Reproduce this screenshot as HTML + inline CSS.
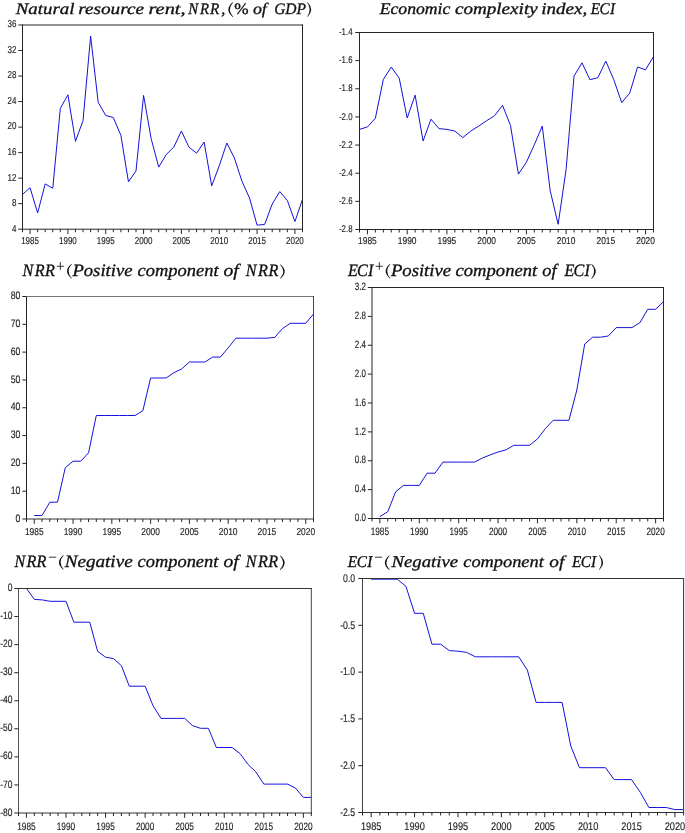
<!DOCTYPE html>
<html><head><meta charset="utf-8"><style>
html,body{margin:0;padding:0;background:#fff;}
svg{display:block;}
text{font-family:"Liberation Sans",sans-serif;fill:#222;text-rendering:geometricPrecision;stroke:#222;stroke-width:0.15px;}
text.tt{font-family:"Liberation Serif",serif;fill:#111;stroke:#111;stroke-width:0.32px;}
text{filter:grayscale(1);}
</style></head><body>
<svg width="685" height="833" viewBox="0 0 685 833">
<rect width="685" height="833" fill="#fff"/>
<polyline points="22.50,194.50 30.07,187.70 37.64,213.00 45.20,183.90 52.77,188.30 60.34,108.30 67.91,94.80 75.47,141.30 83.04,120.60 90.61,36.00 98.18,102.30 105.74,115.50 113.31,117.50 120.88,135.40 128.45,181.80 136.01,171.00 143.58,95.40 151.15,138.70 158.72,167.10 166.28,154.50 173.85,147.00 181.42,131.00 188.99,147.20 196.55,153.20 204.12,142.00 211.69,185.90 219.26,165.80 226.82,143.00 234.39,158.00 241.96,181.30 249.53,198.00 257.09,225.20 264.66,224.40 272.23,204.00 279.80,191.60 287.36,200.60 294.93,221.60 302.50,199.40" fill="none" stroke="#1212dc" stroke-width="1.0" stroke-linejoin="round"/>
<line x1="22.50" y1="24.50" x2="22.50" y2="229.70" stroke="#262626" stroke-width="1"/>
<line x1="22.00" y1="25.00" x2="303.00" y2="25.00" stroke="#262626" stroke-width="1"/>
<line x1="302.50" y1="24.50" x2="302.50" y2="229.70" stroke="#262626" stroke-width="1"/>
<line x1="22.00" y1="229.20" x2="303.00" y2="229.20" stroke="#262626" stroke-width="1"/>
<line x1="18.30" y1="25.00" x2="22.50" y2="25.00" stroke="#262626" stroke-width="1"/>
<text x="16.40" y="27.38" text-anchor="end" font-size="10.0" transform="translate(16.40 0) scale(0.8 1) translate(-16.40 0)">36</text>
<line x1="18.30" y1="50.52" x2="22.50" y2="50.52" stroke="#262626" stroke-width="1"/>
<text x="16.40" y="52.90" text-anchor="end" font-size="10.0" transform="translate(16.40 0) scale(0.8 1) translate(-16.40 0)">32</text>
<line x1="18.30" y1="76.05" x2="22.50" y2="76.05" stroke="#262626" stroke-width="1"/>
<text x="16.40" y="78.43" text-anchor="end" font-size="10.0" transform="translate(16.40 0) scale(0.8 1) translate(-16.40 0)">28</text>
<line x1="18.30" y1="101.57" x2="22.50" y2="101.57" stroke="#262626" stroke-width="1"/>
<text x="16.40" y="103.95" text-anchor="end" font-size="10.0" transform="translate(16.40 0) scale(0.8 1) translate(-16.40 0)">24</text>
<line x1="18.30" y1="127.10" x2="22.50" y2="127.10" stroke="#262626" stroke-width="1"/>
<text x="16.40" y="129.48" text-anchor="end" font-size="10.0" transform="translate(16.40 0) scale(0.8 1) translate(-16.40 0)">20</text>
<line x1="18.30" y1="152.62" x2="22.50" y2="152.62" stroke="#262626" stroke-width="1"/>
<text x="16.40" y="155.01" text-anchor="end" font-size="10.0" transform="translate(16.40 0) scale(0.8 1) translate(-16.40 0)">16</text>
<line x1="18.30" y1="178.15" x2="22.50" y2="178.15" stroke="#262626" stroke-width="1"/>
<text x="16.40" y="180.53" text-anchor="end" font-size="10.0" transform="translate(16.40 0) scale(0.8 1) translate(-16.40 0)">12</text>
<line x1="18.30" y1="203.67" x2="22.50" y2="203.67" stroke="#262626" stroke-width="1"/>
<text x="16.40" y="206.06" text-anchor="end" font-size="10.0" transform="translate(16.40 0) scale(0.8 1) translate(-16.40 0)">8</text>
<line x1="18.30" y1="229.20" x2="22.50" y2="229.20" stroke="#262626" stroke-width="1"/>
<text x="16.40" y="231.58" text-anchor="end" font-size="10.0" transform="translate(16.40 0) scale(0.8 1) translate(-16.40 0)">4</text>
<line x1="22.50" y1="229.20" x2="22.50" y2="232.20" stroke="#262626" stroke-width="1"/>
<line x1="30.07" y1="229.20" x2="30.07" y2="234.00" stroke="#262626" stroke-width="1"/>
<text x="30.07" y="243.80" text-anchor="middle" font-size="10.0" transform="translate(30.07 0) scale(0.8 1) translate(-30.07 0)">1985</text>
<line x1="37.64" y1="229.20" x2="37.64" y2="232.20" stroke="#262626" stroke-width="1"/>
<line x1="45.20" y1="229.20" x2="45.20" y2="232.20" stroke="#262626" stroke-width="1"/>
<line x1="52.77" y1="229.20" x2="52.77" y2="232.20" stroke="#262626" stroke-width="1"/>
<line x1="60.34" y1="229.20" x2="60.34" y2="232.20" stroke="#262626" stroke-width="1"/>
<line x1="67.91" y1="229.20" x2="67.91" y2="234.00" stroke="#262626" stroke-width="1"/>
<text x="67.91" y="243.80" text-anchor="middle" font-size="10.0" transform="translate(67.91 0) scale(0.8 1) translate(-67.91 0)">1990</text>
<line x1="75.47" y1="229.20" x2="75.47" y2="232.20" stroke="#262626" stroke-width="1"/>
<line x1="83.04" y1="229.20" x2="83.04" y2="232.20" stroke="#262626" stroke-width="1"/>
<line x1="90.61" y1="229.20" x2="90.61" y2="232.20" stroke="#262626" stroke-width="1"/>
<line x1="98.18" y1="229.20" x2="98.18" y2="232.20" stroke="#262626" stroke-width="1"/>
<line x1="105.74" y1="229.20" x2="105.74" y2="234.00" stroke="#262626" stroke-width="1"/>
<text x="105.74" y="243.80" text-anchor="middle" font-size="10.0" transform="translate(105.74 0) scale(0.8 1) translate(-105.74 0)">1995</text>
<line x1="113.31" y1="229.20" x2="113.31" y2="232.20" stroke="#262626" stroke-width="1"/>
<line x1="120.88" y1="229.20" x2="120.88" y2="232.20" stroke="#262626" stroke-width="1"/>
<line x1="128.45" y1="229.20" x2="128.45" y2="232.20" stroke="#262626" stroke-width="1"/>
<line x1="136.01" y1="229.20" x2="136.01" y2="232.20" stroke="#262626" stroke-width="1"/>
<line x1="143.58" y1="229.20" x2="143.58" y2="234.00" stroke="#262626" stroke-width="1"/>
<text x="143.58" y="243.80" text-anchor="middle" font-size="10.0" transform="translate(143.58 0) scale(0.8 1) translate(-143.58 0)">2000</text>
<line x1="151.15" y1="229.20" x2="151.15" y2="232.20" stroke="#262626" stroke-width="1"/>
<line x1="158.72" y1="229.20" x2="158.72" y2="232.20" stroke="#262626" stroke-width="1"/>
<line x1="166.28" y1="229.20" x2="166.28" y2="232.20" stroke="#262626" stroke-width="1"/>
<line x1="173.85" y1="229.20" x2="173.85" y2="232.20" stroke="#262626" stroke-width="1"/>
<line x1="181.42" y1="229.20" x2="181.42" y2="234.00" stroke="#262626" stroke-width="1"/>
<text x="181.42" y="243.80" text-anchor="middle" font-size="10.0" transform="translate(181.42 0) scale(0.8 1) translate(-181.42 0)">2005</text>
<line x1="188.99" y1="229.20" x2="188.99" y2="232.20" stroke="#262626" stroke-width="1"/>
<line x1="196.55" y1="229.20" x2="196.55" y2="232.20" stroke="#262626" stroke-width="1"/>
<line x1="204.12" y1="229.20" x2="204.12" y2="232.20" stroke="#262626" stroke-width="1"/>
<line x1="211.69" y1="229.20" x2="211.69" y2="232.20" stroke="#262626" stroke-width="1"/>
<line x1="219.26" y1="229.20" x2="219.26" y2="234.00" stroke="#262626" stroke-width="1"/>
<text x="219.26" y="243.80" text-anchor="middle" font-size="10.0" transform="translate(219.26 0) scale(0.8 1) translate(-219.26 0)">2010</text>
<line x1="226.82" y1="229.20" x2="226.82" y2="232.20" stroke="#262626" stroke-width="1"/>
<line x1="234.39" y1="229.20" x2="234.39" y2="232.20" stroke="#262626" stroke-width="1"/>
<line x1="241.96" y1="229.20" x2="241.96" y2="232.20" stroke="#262626" stroke-width="1"/>
<line x1="249.53" y1="229.20" x2="249.53" y2="232.20" stroke="#262626" stroke-width="1"/>
<line x1="257.09" y1="229.20" x2="257.09" y2="234.00" stroke="#262626" stroke-width="1"/>
<text x="257.09" y="243.80" text-anchor="middle" font-size="10.0" transform="translate(257.09 0) scale(0.8 1) translate(-257.09 0)">2015</text>
<line x1="264.66" y1="229.20" x2="264.66" y2="232.20" stroke="#262626" stroke-width="1"/>
<line x1="272.23" y1="229.20" x2="272.23" y2="232.20" stroke="#262626" stroke-width="1"/>
<line x1="279.80" y1="229.20" x2="279.80" y2="232.20" stroke="#262626" stroke-width="1"/>
<line x1="287.36" y1="229.20" x2="287.36" y2="232.20" stroke="#262626" stroke-width="1"/>
<line x1="294.93" y1="229.20" x2="294.93" y2="234.00" stroke="#262626" stroke-width="1"/>
<text x="294.93" y="243.80" text-anchor="middle" font-size="10.0" transform="translate(294.93 0) scale(0.8 1) translate(-294.93 0)">2020</text>
<line x1="302.50" y1="229.20" x2="302.50" y2="232.20" stroke="#262626" stroke-width="1"/>
<text class="tt" x="15.79" y="13.50" font-size="16.0" font-style="italic" textLength="58.75" lengthAdjust="spacingAndGlyphs">Natural</text>
<text class="tt" x="78.20" y="13.50" font-size="16.0" font-style="italic" textLength="65.76" lengthAdjust="spacingAndGlyphs">resource</text>
<text class="tt" x="148.45" y="13.50" font-size="16.0" font-style="italic" textLength="37.14" lengthAdjust="spacingAndGlyphs">rent,</text>
<text class="tt" x="188.20" y="13.50" font-size="16.0" font-style="italic" textLength="9.92" lengthAdjust="spacingAndGlyphs">N</text>
<text class="tt" x="200.06" y="13.50" font-size="16.0" font-style="italic" textLength="9.09" lengthAdjust="spacingAndGlyphs">R</text>
<text class="tt" x="210.09" y="13.50" font-size="16.0" font-style="italic" textLength="9.37" lengthAdjust="spacingAndGlyphs">R</text>
<text class="tt" x="221.30" y="13.50" font-size="16.0" font-style="italic" textLength="4.00" lengthAdjust="spacingAndGlyphs">,</text>
<text class="tt" x="234.26" y="13.50" font-size="16.0" font-style="normal" textLength="14.36" lengthAdjust="spacingAndGlyphs">%</text>
<text class="tt" x="252.94" y="13.50" font-size="16.0" font-style="italic" textLength="13.85" lengthAdjust="spacingAndGlyphs">of</text>
<text class="tt" x="274.17" y="13.50" font-size="16.0" font-style="italic" textLength="31.90" lengthAdjust="spacingAndGlyphs">GDP</text>
<path d="M232.65,2.30 Q224.05,9.60 232.65,16.90 L233.25,16.90 Q226.55,9.60 233.25,2.30 Z" fill="#111"/>
<path d="M307.75,2.20 Q314.55,9.45 307.75,16.70 L307.15,16.70 Q312.05,9.45 307.15,2.20 Z" fill="#111"/>
<polyline points="359.50,129.40 367.45,126.90 375.39,118.20 383.34,79.40 391.28,67.00 399.23,78.20 407.18,118.00 415.12,95.10 423.07,141.00 431.01,119.20 438.96,128.60 446.91,129.40 454.85,131.10 462.80,137.60 470.74,131.10 478.69,126.10 486.64,120.70 494.58,115.70 502.53,105.30 510.47,125.40 518.42,174.10 526.36,162.20 534.31,144.80 542.26,126.10 550.20,190.70 558.15,224.30 566.09,169.60 574.04,76.00 581.99,62.80 589.93,79.70 597.88,77.70 605.82,61.10 613.77,79.70 621.72,102.60 629.66,93.20 637.61,67.00 645.55,69.80 653.50,56.60" fill="none" stroke="#1212dc" stroke-width="1.0" stroke-linejoin="round"/>
<line x1="359.50" y1="32.00" x2="359.50" y2="230.00" stroke="#262626" stroke-width="1"/>
<line x1="359.00" y1="32.50" x2="654.00" y2="32.50" stroke="#262626" stroke-width="1"/>
<line x1="653.50" y1="32.00" x2="653.50" y2="230.00" stroke="#262626" stroke-width="1"/>
<line x1="359.00" y1="229.50" x2="654.00" y2="229.50" stroke="#262626" stroke-width="1"/>
<line x1="355.30" y1="32.50" x2="359.50" y2="32.50" stroke="#262626" stroke-width="1"/>
<text x="352.50" y="35.21" text-anchor="end" font-size="9.8" transform="translate(352.50 0) scale(0.8 1) translate(-352.50 0)">-1.4</text>
<line x1="355.30" y1="60.64" x2="359.50" y2="60.64" stroke="#262626" stroke-width="1"/>
<text x="352.50" y="63.35" text-anchor="end" font-size="9.8" transform="translate(352.50 0) scale(0.8 1) translate(-352.50 0)">-1.6</text>
<line x1="355.30" y1="88.79" x2="359.50" y2="88.79" stroke="#262626" stroke-width="1"/>
<text x="352.50" y="91.49" text-anchor="end" font-size="9.8" transform="translate(352.50 0) scale(0.8 1) translate(-352.50 0)">-1.8</text>
<line x1="355.30" y1="116.93" x2="359.50" y2="116.93" stroke="#262626" stroke-width="1"/>
<text x="352.50" y="119.64" text-anchor="end" font-size="9.8" transform="translate(352.50 0) scale(0.8 1) translate(-352.50 0)">-2.0</text>
<line x1="355.30" y1="145.07" x2="359.50" y2="145.07" stroke="#262626" stroke-width="1"/>
<text x="352.50" y="147.78" text-anchor="end" font-size="9.8" transform="translate(352.50 0) scale(0.8 1) translate(-352.50 0)">-2.2</text>
<line x1="355.30" y1="173.21" x2="359.50" y2="173.21" stroke="#262626" stroke-width="1"/>
<text x="352.50" y="175.92" text-anchor="end" font-size="9.8" transform="translate(352.50 0) scale(0.8 1) translate(-352.50 0)">-2.4</text>
<line x1="355.30" y1="201.36" x2="359.50" y2="201.36" stroke="#262626" stroke-width="1"/>
<text x="352.50" y="204.07" text-anchor="end" font-size="9.8" transform="translate(352.50 0) scale(0.8 1) translate(-352.50 0)">-2.6</text>
<line x1="355.30" y1="229.50" x2="359.50" y2="229.50" stroke="#262626" stroke-width="1"/>
<text x="352.50" y="232.21" text-anchor="end" font-size="9.8" transform="translate(352.50 0) scale(0.8 1) translate(-352.50 0)">-2.8</text>
<line x1="359.50" y1="229.50" x2="359.50" y2="232.50" stroke="#262626" stroke-width="1"/>
<line x1="367.45" y1="229.50" x2="367.45" y2="234.30" stroke="#262626" stroke-width="1"/>
<text x="367.45" y="243.80" text-anchor="middle" font-size="9.9" transform="translate(367.45 0) scale(0.85 1) translate(-367.45 0)">1985</text>
<line x1="375.39" y1="229.50" x2="375.39" y2="232.50" stroke="#262626" stroke-width="1"/>
<line x1="383.34" y1="229.50" x2="383.34" y2="232.50" stroke="#262626" stroke-width="1"/>
<line x1="391.28" y1="229.50" x2="391.28" y2="232.50" stroke="#262626" stroke-width="1"/>
<line x1="399.23" y1="229.50" x2="399.23" y2="232.50" stroke="#262626" stroke-width="1"/>
<line x1="407.18" y1="229.50" x2="407.18" y2="234.30" stroke="#262626" stroke-width="1"/>
<text x="407.18" y="243.80" text-anchor="middle" font-size="9.9" transform="translate(407.18 0) scale(0.85 1) translate(-407.18 0)">1990</text>
<line x1="415.12" y1="229.50" x2="415.12" y2="232.50" stroke="#262626" stroke-width="1"/>
<line x1="423.07" y1="229.50" x2="423.07" y2="232.50" stroke="#262626" stroke-width="1"/>
<line x1="431.01" y1="229.50" x2="431.01" y2="232.50" stroke="#262626" stroke-width="1"/>
<line x1="438.96" y1="229.50" x2="438.96" y2="232.50" stroke="#262626" stroke-width="1"/>
<line x1="446.91" y1="229.50" x2="446.91" y2="234.30" stroke="#262626" stroke-width="1"/>
<text x="446.91" y="243.80" text-anchor="middle" font-size="9.9" transform="translate(446.91 0) scale(0.85 1) translate(-446.91 0)">1995</text>
<line x1="454.85" y1="229.50" x2="454.85" y2="232.50" stroke="#262626" stroke-width="1"/>
<line x1="462.80" y1="229.50" x2="462.80" y2="232.50" stroke="#262626" stroke-width="1"/>
<line x1="470.74" y1="229.50" x2="470.74" y2="232.50" stroke="#262626" stroke-width="1"/>
<line x1="478.69" y1="229.50" x2="478.69" y2="232.50" stroke="#262626" stroke-width="1"/>
<line x1="486.64" y1="229.50" x2="486.64" y2="234.30" stroke="#262626" stroke-width="1"/>
<text x="486.64" y="243.80" text-anchor="middle" font-size="9.9" transform="translate(486.64 0) scale(0.85 1) translate(-486.64 0)">2000</text>
<line x1="494.58" y1="229.50" x2="494.58" y2="232.50" stroke="#262626" stroke-width="1"/>
<line x1="502.53" y1="229.50" x2="502.53" y2="232.50" stroke="#262626" stroke-width="1"/>
<line x1="510.47" y1="229.50" x2="510.47" y2="232.50" stroke="#262626" stroke-width="1"/>
<line x1="518.42" y1="229.50" x2="518.42" y2="232.50" stroke="#262626" stroke-width="1"/>
<line x1="526.36" y1="229.50" x2="526.36" y2="234.30" stroke="#262626" stroke-width="1"/>
<text x="526.36" y="243.80" text-anchor="middle" font-size="9.9" transform="translate(526.36 0) scale(0.85 1) translate(-526.36 0)">2005</text>
<line x1="534.31" y1="229.50" x2="534.31" y2="232.50" stroke="#262626" stroke-width="1"/>
<line x1="542.26" y1="229.50" x2="542.26" y2="232.50" stroke="#262626" stroke-width="1"/>
<line x1="550.20" y1="229.50" x2="550.20" y2="232.50" stroke="#262626" stroke-width="1"/>
<line x1="558.15" y1="229.50" x2="558.15" y2="232.50" stroke="#262626" stroke-width="1"/>
<line x1="566.09" y1="229.50" x2="566.09" y2="234.30" stroke="#262626" stroke-width="1"/>
<text x="566.09" y="243.80" text-anchor="middle" font-size="9.9" transform="translate(566.09 0) scale(0.85 1) translate(-566.09 0)">2010</text>
<line x1="574.04" y1="229.50" x2="574.04" y2="232.50" stroke="#262626" stroke-width="1"/>
<line x1="581.99" y1="229.50" x2="581.99" y2="232.50" stroke="#262626" stroke-width="1"/>
<line x1="589.93" y1="229.50" x2="589.93" y2="232.50" stroke="#262626" stroke-width="1"/>
<line x1="597.88" y1="229.50" x2="597.88" y2="232.50" stroke="#262626" stroke-width="1"/>
<line x1="605.82" y1="229.50" x2="605.82" y2="234.30" stroke="#262626" stroke-width="1"/>
<text x="605.82" y="243.80" text-anchor="middle" font-size="9.9" transform="translate(605.82 0) scale(0.85 1) translate(-605.82 0)">2015</text>
<line x1="613.77" y1="229.50" x2="613.77" y2="232.50" stroke="#262626" stroke-width="1"/>
<line x1="621.72" y1="229.50" x2="621.72" y2="232.50" stroke="#262626" stroke-width="1"/>
<line x1="629.66" y1="229.50" x2="629.66" y2="232.50" stroke="#262626" stroke-width="1"/>
<line x1="637.61" y1="229.50" x2="637.61" y2="232.50" stroke="#262626" stroke-width="1"/>
<line x1="645.55" y1="229.50" x2="645.55" y2="234.30" stroke="#262626" stroke-width="1"/>
<text x="645.55" y="243.80" text-anchor="middle" font-size="9.9" transform="translate(645.55 0) scale(0.85 1) translate(-645.55 0)">2020</text>
<line x1="653.50" y1="229.50" x2="653.50" y2="232.50" stroke="#262626" stroke-width="1"/>
<text class="tt" x="379.67" y="13.70" font-size="16.3" font-style="italic" textLength="70.71" lengthAdjust="spacingAndGlyphs">Economic</text>
<text class="tt" x="454.91" y="13.70" font-size="16.3" font-style="italic" textLength="82.79" lengthAdjust="spacingAndGlyphs">complexity</text>
<text class="tt" x="541.23" y="13.70" font-size="16.3" font-style="italic" textLength="45.98" lengthAdjust="spacingAndGlyphs">index,</text>
<text class="tt" x="590.63" y="13.70" font-size="16.3" font-style="italic" textLength="9.33" lengthAdjust="spacingAndGlyphs">E</text>
<text class="tt" x="599.53" y="13.70" font-size="16.3" font-style="italic" textLength="10.11" lengthAdjust="spacingAndGlyphs">C</text>
<text class="tt" x="609.99" y="13.70" font-size="16.3" font-style="italic" textLength="5.05" lengthAdjust="spacingAndGlyphs">I</text>
<polyline points="34.26,515.50 42.01,515.50 49.77,502.30 57.53,502.10 65.28,467.70 73.04,461.20 80.80,461.20 88.55,452.80 96.31,415.50 104.07,415.50 111.82,415.50 119.58,415.50 127.34,415.50 135.09,415.50 142.85,410.70 150.61,378.00 158.36,378.00 166.12,378.00 173.88,372.70 181.64,369.00 189.39,362.00 197.15,362.00 204.91,362.00 212.66,357.10 220.42,357.10 228.18,347.80 235.93,338.20 243.69,338.20 251.45,338.20 259.20,338.20 266.96,338.20 274.72,337.40 282.47,328.60 290.23,323.30 297.99,323.30 305.74,323.30 313.50,314.00" fill="none" stroke="#1212dc" stroke-width="1.0" stroke-linejoin="round"/>
<line x1="26.50" y1="296.00" x2="26.50" y2="519.50" stroke="#222" stroke-width="1"/>
<line x1="26.00" y1="296.50" x2="314.00" y2="296.50" stroke="#777" stroke-width="1"/>
<line x1="313.50" y1="296.00" x2="313.50" y2="519.50" stroke="#444" stroke-width="1"/>
<line x1="26.00" y1="519.00" x2="314.00" y2="519.00" stroke="#333" stroke-width="1"/>
<line x1="22.30" y1="296.50" x2="26.50" y2="296.50" stroke="#262626" stroke-width="1"/>
<text x="20.40" y="299.20" text-anchor="end" font-size="10.9" transform="translate(20.40 0) scale(0.8 1) translate(-20.40 0)">80</text>
<line x1="22.30" y1="324.31" x2="26.50" y2="324.31" stroke="#262626" stroke-width="1"/>
<text x="20.40" y="327.01" text-anchor="end" font-size="10.9" transform="translate(20.40 0) scale(0.8 1) translate(-20.40 0)">70</text>
<line x1="22.30" y1="352.12" x2="26.50" y2="352.12" stroke="#262626" stroke-width="1"/>
<text x="20.40" y="354.83" text-anchor="end" font-size="10.9" transform="translate(20.40 0) scale(0.8 1) translate(-20.40 0)">60</text>
<line x1="22.30" y1="379.94" x2="26.50" y2="379.94" stroke="#262626" stroke-width="1"/>
<text x="20.40" y="382.64" text-anchor="end" font-size="10.9" transform="translate(20.40 0) scale(0.8 1) translate(-20.40 0)">50</text>
<line x1="22.30" y1="407.75" x2="26.50" y2="407.75" stroke="#262626" stroke-width="1"/>
<text x="20.40" y="410.45" text-anchor="end" font-size="10.9" transform="translate(20.40 0) scale(0.8 1) translate(-20.40 0)">40</text>
<line x1="22.30" y1="435.56" x2="26.50" y2="435.56" stroke="#262626" stroke-width="1"/>
<text x="20.40" y="438.26" text-anchor="end" font-size="10.9" transform="translate(20.40 0) scale(0.8 1) translate(-20.40 0)">30</text>
<line x1="22.30" y1="463.38" x2="26.50" y2="463.38" stroke="#262626" stroke-width="1"/>
<text x="20.40" y="466.08" text-anchor="end" font-size="10.9" transform="translate(20.40 0) scale(0.8 1) translate(-20.40 0)">20</text>
<line x1="22.30" y1="491.19" x2="26.50" y2="491.19" stroke="#262626" stroke-width="1"/>
<text x="20.40" y="493.89" text-anchor="end" font-size="10.9" transform="translate(20.40 0) scale(0.8 1) translate(-20.40 0)">10</text>
<line x1="22.30" y1="519.00" x2="26.50" y2="519.00" stroke="#262626" stroke-width="1"/>
<text x="20.40" y="521.70" text-anchor="end" font-size="10.9" transform="translate(20.40 0) scale(0.8 1) translate(-20.40 0)">0</text>
<line x1="26.50" y1="519.00" x2="26.50" y2="522.00" stroke="#262626" stroke-width="1"/>
<line x1="34.26" y1="519.00" x2="34.26" y2="523.80" stroke="#262626" stroke-width="1"/>
<text x="34.26" y="534.80" text-anchor="middle" font-size="10.0" transform="translate(34.26 0) scale(0.84 1) translate(-34.26 0)">1985</text>
<line x1="42.01" y1="519.00" x2="42.01" y2="522.00" stroke="#262626" stroke-width="1"/>
<line x1="49.77" y1="519.00" x2="49.77" y2="522.00" stroke="#262626" stroke-width="1"/>
<line x1="57.53" y1="519.00" x2="57.53" y2="522.00" stroke="#262626" stroke-width="1"/>
<line x1="65.28" y1="519.00" x2="65.28" y2="522.00" stroke="#262626" stroke-width="1"/>
<line x1="73.04" y1="519.00" x2="73.04" y2="523.80" stroke="#262626" stroke-width="1"/>
<text x="73.04" y="534.80" text-anchor="middle" font-size="10.0" transform="translate(73.04 0) scale(0.84 1) translate(-73.04 0)">1990</text>
<line x1="80.80" y1="519.00" x2="80.80" y2="522.00" stroke="#262626" stroke-width="1"/>
<line x1="88.55" y1="519.00" x2="88.55" y2="522.00" stroke="#262626" stroke-width="1"/>
<line x1="96.31" y1="519.00" x2="96.31" y2="522.00" stroke="#262626" stroke-width="1"/>
<line x1="104.07" y1="519.00" x2="104.07" y2="522.00" stroke="#262626" stroke-width="1"/>
<line x1="111.82" y1="519.00" x2="111.82" y2="523.80" stroke="#262626" stroke-width="1"/>
<text x="111.82" y="534.80" text-anchor="middle" font-size="10.0" transform="translate(111.82 0) scale(0.84 1) translate(-111.82 0)">1995</text>
<line x1="119.58" y1="519.00" x2="119.58" y2="522.00" stroke="#262626" stroke-width="1"/>
<line x1="127.34" y1="519.00" x2="127.34" y2="522.00" stroke="#262626" stroke-width="1"/>
<line x1="135.09" y1="519.00" x2="135.09" y2="522.00" stroke="#262626" stroke-width="1"/>
<line x1="142.85" y1="519.00" x2="142.85" y2="522.00" stroke="#262626" stroke-width="1"/>
<line x1="150.61" y1="519.00" x2="150.61" y2="523.80" stroke="#262626" stroke-width="1"/>
<text x="150.61" y="534.80" text-anchor="middle" font-size="10.0" transform="translate(150.61 0) scale(0.84 1) translate(-150.61 0)">2000</text>
<line x1="158.36" y1="519.00" x2="158.36" y2="522.00" stroke="#262626" stroke-width="1"/>
<line x1="166.12" y1="519.00" x2="166.12" y2="522.00" stroke="#262626" stroke-width="1"/>
<line x1="173.88" y1="519.00" x2="173.88" y2="522.00" stroke="#262626" stroke-width="1"/>
<line x1="181.64" y1="519.00" x2="181.64" y2="522.00" stroke="#262626" stroke-width="1"/>
<line x1="189.39" y1="519.00" x2="189.39" y2="523.80" stroke="#262626" stroke-width="1"/>
<text x="189.39" y="534.80" text-anchor="middle" font-size="10.0" transform="translate(189.39 0) scale(0.84 1) translate(-189.39 0)">2005</text>
<line x1="197.15" y1="519.00" x2="197.15" y2="522.00" stroke="#262626" stroke-width="1"/>
<line x1="204.91" y1="519.00" x2="204.91" y2="522.00" stroke="#262626" stroke-width="1"/>
<line x1="212.66" y1="519.00" x2="212.66" y2="522.00" stroke="#262626" stroke-width="1"/>
<line x1="220.42" y1="519.00" x2="220.42" y2="522.00" stroke="#262626" stroke-width="1"/>
<line x1="228.18" y1="519.00" x2="228.18" y2="523.80" stroke="#262626" stroke-width="1"/>
<text x="228.18" y="534.80" text-anchor="middle" font-size="10.0" transform="translate(228.18 0) scale(0.84 1) translate(-228.18 0)">2010</text>
<line x1="235.93" y1="519.00" x2="235.93" y2="522.00" stroke="#262626" stroke-width="1"/>
<line x1="243.69" y1="519.00" x2="243.69" y2="522.00" stroke="#262626" stroke-width="1"/>
<line x1="251.45" y1="519.00" x2="251.45" y2="522.00" stroke="#262626" stroke-width="1"/>
<line x1="259.20" y1="519.00" x2="259.20" y2="522.00" stroke="#262626" stroke-width="1"/>
<line x1="266.96" y1="519.00" x2="266.96" y2="523.80" stroke="#262626" stroke-width="1"/>
<text x="266.96" y="534.80" text-anchor="middle" font-size="10.0" transform="translate(266.96 0) scale(0.84 1) translate(-266.96 0)">2015</text>
<line x1="274.72" y1="519.00" x2="274.72" y2="522.00" stroke="#262626" stroke-width="1"/>
<line x1="282.47" y1="519.00" x2="282.47" y2="522.00" stroke="#262626" stroke-width="1"/>
<line x1="290.23" y1="519.00" x2="290.23" y2="522.00" stroke="#262626" stroke-width="1"/>
<line x1="297.99" y1="519.00" x2="297.99" y2="522.00" stroke="#262626" stroke-width="1"/>
<line x1="305.74" y1="519.00" x2="305.74" y2="523.80" stroke="#262626" stroke-width="1"/>
<text x="305.74" y="534.80" text-anchor="middle" font-size="10.0" transform="translate(305.74 0) scale(0.84 1) translate(-305.74 0)">2020</text>
<line x1="313.50" y1="519.00" x2="313.50" y2="522.00" stroke="#262626" stroke-width="1"/>
<text class="tt" x="22.62" y="275.50" font-size="17.4" font-style="italic" textLength="10.79" lengthAdjust="spacingAndGlyphs">N</text>
<text class="tt" x="34.77" y="275.50" font-size="17.4" font-style="italic" textLength="9.88" lengthAdjust="spacingAndGlyphs">R</text>
<text class="tt" x="45.10" y="275.50" font-size="17.4" font-style="italic" textLength="9.88" lengthAdjust="spacingAndGlyphs">R</text>
<text class="tt" x="72.40" y="275.50" font-size="17.4" font-style="italic" textLength="60.12" lengthAdjust="spacingAndGlyphs">Positive</text>
<text class="tt" x="137.57" y="275.50" font-size="17.4" font-style="italic" textLength="81.10" lengthAdjust="spacingAndGlyphs">component</text>
<text class="tt" x="223.54" y="275.50" font-size="17.4" font-style="italic" textLength="15.25" lengthAdjust="spacingAndGlyphs">of</text>
<text class="tt" x="245.84" y="275.50" font-size="17.4" font-style="italic" textLength="10.79" lengthAdjust="spacingAndGlyphs">N</text>
<text class="tt" x="258.02" y="275.50" font-size="17.4" font-style="italic" textLength="9.88" lengthAdjust="spacingAndGlyphs">R</text>
<text class="tt" x="268.39" y="275.50" font-size="17.4" font-style="italic" textLength="9.88" lengthAdjust="spacingAndGlyphs">R</text>
<path d="M71.35,264.10 Q62.75,271.25 71.35,278.40 L71.95,278.40 Q65.25,271.25 71.95,264.10 Z" fill="#111"/>
<path d="M280.55,264.40 Q288.95,271.40 280.55,278.40 L279.95,278.40 Q286.45,271.40 279.95,264.40 Z" fill="#111"/>
<line x1="56.90" y1="266.30" x2="63.90" y2="266.30" stroke="#222" stroke-width="0.9"/>
<line x1="60.30" y1="262.10" x2="60.30" y2="270.00" stroke="#222" stroke-width="0.9"/>
<polyline points="379.88,516.60 387.76,511.80 395.64,491.80 403.51,485.40 411.39,485.40 419.27,485.40 427.15,473.20 435.03,473.20 442.91,462.10 450.78,462.10 458.66,462.10 466.54,462.10 474.42,462.10 482.30,458.10 490.18,454.90 498.05,452.00 505.93,449.90 513.81,445.30 521.69,445.30 529.57,445.30 537.45,438.90 545.32,428.70 553.20,420.30 561.08,420.30 568.96,420.30 576.84,390.00 584.72,344.00 592.59,337.20 600.47,337.20 608.35,336.00 616.23,327.60 624.11,327.60 631.99,327.60 639.86,322.70 647.74,309.30 655.62,309.30 663.50,301.70" fill="none" stroke="#1212dc" stroke-width="1.0" stroke-linejoin="round"/>
<line x1="372.00" y1="287.00" x2="372.00" y2="519.00" stroke="#262626" stroke-width="1"/>
<line x1="371.50" y1="287.50" x2="664.00" y2="287.50" stroke="#262626" stroke-width="1"/>
<line x1="663.50" y1="287.00" x2="663.50" y2="519.00" stroke="#262626" stroke-width="1"/>
<line x1="371.50" y1="518.50" x2="664.00" y2="518.50" stroke="#262626" stroke-width="1"/>
<line x1="367.80" y1="287.50" x2="372.00" y2="287.50" stroke="#262626" stroke-width="1"/>
<text x="366.00" y="290.13" text-anchor="end" font-size="10.7" transform="translate(366.00 0) scale(0.75 1) translate(-366.00 0)">3.2</text>
<line x1="367.80" y1="316.38" x2="372.00" y2="316.38" stroke="#262626" stroke-width="1"/>
<text x="366.00" y="319.01" text-anchor="end" font-size="10.7" transform="translate(366.00 0) scale(0.75 1) translate(-366.00 0)">2.8</text>
<line x1="367.80" y1="345.25" x2="372.00" y2="345.25" stroke="#262626" stroke-width="1"/>
<text x="366.00" y="347.88" text-anchor="end" font-size="10.7" transform="translate(366.00 0) scale(0.75 1) translate(-366.00 0)">2.4</text>
<line x1="367.80" y1="374.12" x2="372.00" y2="374.12" stroke="#262626" stroke-width="1"/>
<text x="366.00" y="376.76" text-anchor="end" font-size="10.7" transform="translate(366.00 0) scale(0.75 1) translate(-366.00 0)">2.0</text>
<line x1="367.80" y1="403.00" x2="372.00" y2="403.00" stroke="#262626" stroke-width="1"/>
<text x="366.00" y="405.63" text-anchor="end" font-size="10.7" transform="translate(366.00 0) scale(0.75 1) translate(-366.00 0)">1.6</text>
<line x1="367.80" y1="431.88" x2="372.00" y2="431.88" stroke="#262626" stroke-width="1"/>
<text x="366.00" y="434.51" text-anchor="end" font-size="10.7" transform="translate(366.00 0) scale(0.75 1) translate(-366.00 0)">1.2</text>
<line x1="367.80" y1="460.75" x2="372.00" y2="460.75" stroke="#262626" stroke-width="1"/>
<text x="366.00" y="463.38" text-anchor="end" font-size="10.7" transform="translate(366.00 0) scale(0.75 1) translate(-366.00 0)">0.8</text>
<line x1="367.80" y1="489.62" x2="372.00" y2="489.62" stroke="#262626" stroke-width="1"/>
<text x="366.00" y="492.26" text-anchor="end" font-size="10.7" transform="translate(366.00 0) scale(0.75 1) translate(-366.00 0)">0.4</text>
<line x1="367.80" y1="518.50" x2="372.00" y2="518.50" stroke="#262626" stroke-width="1"/>
<text x="366.00" y="521.13" text-anchor="end" font-size="10.7" transform="translate(366.00 0) scale(0.75 1) translate(-366.00 0)">0.0</text>
<line x1="372.00" y1="518.50" x2="372.00" y2="521.50" stroke="#262626" stroke-width="1"/>
<line x1="379.88" y1="518.50" x2="379.88" y2="523.30" stroke="#262626" stroke-width="1"/>
<text x="379.88" y="534.90" text-anchor="middle" font-size="10.7" transform="translate(379.88 0) scale(0.77 1) translate(-379.88 0)">1985</text>
<line x1="387.76" y1="518.50" x2="387.76" y2="521.50" stroke="#262626" stroke-width="1"/>
<line x1="395.64" y1="518.50" x2="395.64" y2="521.50" stroke="#262626" stroke-width="1"/>
<line x1="403.51" y1="518.50" x2="403.51" y2="521.50" stroke="#262626" stroke-width="1"/>
<line x1="411.39" y1="518.50" x2="411.39" y2="521.50" stroke="#262626" stroke-width="1"/>
<line x1="419.27" y1="518.50" x2="419.27" y2="523.30" stroke="#262626" stroke-width="1"/>
<text x="419.27" y="534.90" text-anchor="middle" font-size="10.7" transform="translate(419.27 0) scale(0.77 1) translate(-419.27 0)">1990</text>
<line x1="427.15" y1="518.50" x2="427.15" y2="521.50" stroke="#262626" stroke-width="1"/>
<line x1="435.03" y1="518.50" x2="435.03" y2="521.50" stroke="#262626" stroke-width="1"/>
<line x1="442.91" y1="518.50" x2="442.91" y2="521.50" stroke="#262626" stroke-width="1"/>
<line x1="450.78" y1="518.50" x2="450.78" y2="521.50" stroke="#262626" stroke-width="1"/>
<line x1="458.66" y1="518.50" x2="458.66" y2="523.30" stroke="#262626" stroke-width="1"/>
<text x="458.66" y="534.90" text-anchor="middle" font-size="10.7" transform="translate(458.66 0) scale(0.77 1) translate(-458.66 0)">1995</text>
<line x1="466.54" y1="518.50" x2="466.54" y2="521.50" stroke="#262626" stroke-width="1"/>
<line x1="474.42" y1="518.50" x2="474.42" y2="521.50" stroke="#262626" stroke-width="1"/>
<line x1="482.30" y1="518.50" x2="482.30" y2="521.50" stroke="#262626" stroke-width="1"/>
<line x1="490.18" y1="518.50" x2="490.18" y2="521.50" stroke="#262626" stroke-width="1"/>
<line x1="498.05" y1="518.50" x2="498.05" y2="523.30" stroke="#262626" stroke-width="1"/>
<text x="498.05" y="534.90" text-anchor="middle" font-size="10.7" transform="translate(498.05 0) scale(0.77 1) translate(-498.05 0)">2000</text>
<line x1="505.93" y1="518.50" x2="505.93" y2="521.50" stroke="#262626" stroke-width="1"/>
<line x1="513.81" y1="518.50" x2="513.81" y2="521.50" stroke="#262626" stroke-width="1"/>
<line x1="521.69" y1="518.50" x2="521.69" y2="521.50" stroke="#262626" stroke-width="1"/>
<line x1="529.57" y1="518.50" x2="529.57" y2="521.50" stroke="#262626" stroke-width="1"/>
<line x1="537.45" y1="518.50" x2="537.45" y2="523.30" stroke="#262626" stroke-width="1"/>
<text x="537.45" y="534.90" text-anchor="middle" font-size="10.7" transform="translate(537.45 0) scale(0.77 1) translate(-537.45 0)">2005</text>
<line x1="545.32" y1="518.50" x2="545.32" y2="521.50" stroke="#262626" stroke-width="1"/>
<line x1="553.20" y1="518.50" x2="553.20" y2="521.50" stroke="#262626" stroke-width="1"/>
<line x1="561.08" y1="518.50" x2="561.08" y2="521.50" stroke="#262626" stroke-width="1"/>
<line x1="568.96" y1="518.50" x2="568.96" y2="521.50" stroke="#262626" stroke-width="1"/>
<line x1="576.84" y1="518.50" x2="576.84" y2="523.30" stroke="#262626" stroke-width="1"/>
<text x="576.84" y="534.90" text-anchor="middle" font-size="10.7" transform="translate(576.84 0) scale(0.77 1) translate(-576.84 0)">2010</text>
<line x1="584.72" y1="518.50" x2="584.72" y2="521.50" stroke="#262626" stroke-width="1"/>
<line x1="592.59" y1="518.50" x2="592.59" y2="521.50" stroke="#262626" stroke-width="1"/>
<line x1="600.47" y1="518.50" x2="600.47" y2="521.50" stroke="#262626" stroke-width="1"/>
<line x1="608.35" y1="518.50" x2="608.35" y2="521.50" stroke="#262626" stroke-width="1"/>
<line x1="616.23" y1="518.50" x2="616.23" y2="523.30" stroke="#262626" stroke-width="1"/>
<text x="616.23" y="534.90" text-anchor="middle" font-size="10.7" transform="translate(616.23 0) scale(0.77 1) translate(-616.23 0)">2015</text>
<line x1="624.11" y1="518.50" x2="624.11" y2="521.50" stroke="#262626" stroke-width="1"/>
<line x1="631.99" y1="518.50" x2="631.99" y2="521.50" stroke="#262626" stroke-width="1"/>
<line x1="639.86" y1="518.50" x2="639.86" y2="521.50" stroke="#262626" stroke-width="1"/>
<line x1="647.74" y1="518.50" x2="647.74" y2="521.50" stroke="#262626" stroke-width="1"/>
<line x1="655.62" y1="518.50" x2="655.62" y2="523.30" stroke="#262626" stroke-width="1"/>
<text x="655.62" y="534.90" text-anchor="middle" font-size="10.7" transform="translate(655.62 0) scale(0.77 1) translate(-655.62 0)">2020</text>
<line x1="663.50" y1="518.50" x2="663.50" y2="521.50" stroke="#262626" stroke-width="1"/>
<text class="tt" x="348.07" y="275.60" font-size="17.4" font-style="italic" textLength="9.88" lengthAdjust="spacingAndGlyphs">E</text>
<text class="tt" x="357.10" y="275.60" font-size="17.4" font-style="italic" textLength="10.79" lengthAdjust="spacingAndGlyphs">C</text>
<text class="tt" x="367.88" y="275.60" font-size="17.4" font-style="italic" textLength="5.39" lengthAdjust="spacingAndGlyphs">I</text>
<text class="tt" x="390.90" y="275.60" font-size="17.4" font-style="italic" textLength="60.22" lengthAdjust="spacingAndGlyphs">Positive</text>
<text class="tt" x="455.57" y="275.60" font-size="17.4" font-style="italic" textLength="81.60" lengthAdjust="spacingAndGlyphs">component</text>
<text class="tt" x="542.37" y="275.60" font-size="17.4" font-style="italic" textLength="14.26" lengthAdjust="spacingAndGlyphs">of</text>
<text class="tt" x="564.57" y="275.60" font-size="17.4" font-style="italic" textLength="9.88" lengthAdjust="spacingAndGlyphs">E</text>
<text class="tt" x="573.60" y="275.60" font-size="17.4" font-style="italic" textLength="10.79" lengthAdjust="spacingAndGlyphs">C</text>
<text class="tt" x="584.38" y="275.60" font-size="17.4" font-style="italic" textLength="5.39" lengthAdjust="spacingAndGlyphs">I</text>
<path d="M389.85,264.10 Q381.45,271.25 389.85,278.40 L390.45,278.40 Q383.95,271.25 390.45,264.10 Z" fill="#111"/>
<path d="M591.75,264.10 Q599.75,271.40 591.75,278.70 L591.15,278.70 Q597.25,271.40 591.15,264.10 Z" fill="#111"/>
<line x1="375.70" y1="266.30" x2="382.70" y2="266.30" stroke="#222" stroke-width="0.9"/>
<line x1="379.30" y1="262.20" x2="379.30" y2="269.70" stroke="#222" stroke-width="0.9"/>
<polyline points="26.41,588.30 34.33,599.40 42.24,599.90 50.15,601.30 58.07,601.30 65.98,601.30 73.89,622.20 81.81,622.20 89.72,622.20 97.64,651.30 105.55,657.20 113.46,658.60 121.38,665.70 129.29,686.20 137.20,686.20 145.12,686.20 153.03,705.70 160.94,718.40 168.86,718.40 176.77,718.40 184.68,718.40 192.60,725.70 200.51,728.30 208.42,728.30 216.34,747.50 224.25,747.50 232.16,747.50 240.08,753.70 247.99,764.40 255.91,772.00 263.82,784.10 271.73,784.10 279.65,784.10 287.56,784.10 295.47,788.10 303.39,797.40 311.30,797.40" fill="none" stroke="#1212dc" stroke-width="1.0" stroke-linejoin="round"/>
<line x1="18.50" y1="588.00" x2="18.50" y2="813.50" stroke="#555" stroke-width="1"/>
<line x1="18.00" y1="588.50" x2="311.80" y2="588.50" stroke="#333" stroke-width="1"/>
<line x1="311.30" y1="588.00" x2="311.30" y2="813.50" stroke="#444" stroke-width="1"/>
<line x1="18.00" y1="813.00" x2="311.80" y2="813.00" stroke="#333" stroke-width="1"/>
<line x1="14.30" y1="588.50" x2="18.50" y2="588.50" stroke="#262626" stroke-width="1"/>
<text x="12.50" y="591.09" text-anchor="end" font-size="10.6" transform="translate(12.50 0) scale(0.8 1) translate(-12.50 0)">0</text>
<line x1="14.30" y1="616.56" x2="18.50" y2="616.56" stroke="#262626" stroke-width="1"/>
<text x="12.50" y="619.16" text-anchor="end" font-size="10.6" transform="translate(12.50 0) scale(0.8 1) translate(-12.50 0)">-10</text>
<line x1="14.30" y1="644.62" x2="18.50" y2="644.62" stroke="#262626" stroke-width="1"/>
<text x="12.50" y="647.22" text-anchor="end" font-size="10.6" transform="translate(12.50 0) scale(0.8 1) translate(-12.50 0)">-20</text>
<line x1="14.30" y1="672.69" x2="18.50" y2="672.69" stroke="#262626" stroke-width="1"/>
<text x="12.50" y="675.28" text-anchor="end" font-size="10.6" transform="translate(12.50 0) scale(0.8 1) translate(-12.50 0)">-30</text>
<line x1="14.30" y1="700.75" x2="18.50" y2="700.75" stroke="#262626" stroke-width="1"/>
<text x="12.50" y="703.34" text-anchor="end" font-size="10.6" transform="translate(12.50 0) scale(0.8 1) translate(-12.50 0)">-40</text>
<line x1="14.30" y1="728.81" x2="18.50" y2="728.81" stroke="#262626" stroke-width="1"/>
<text x="12.50" y="731.41" text-anchor="end" font-size="10.6" transform="translate(12.50 0) scale(0.8 1) translate(-12.50 0)">-50</text>
<line x1="14.30" y1="756.88" x2="18.50" y2="756.88" stroke="#262626" stroke-width="1"/>
<text x="12.50" y="759.47" text-anchor="end" font-size="10.6" transform="translate(12.50 0) scale(0.8 1) translate(-12.50 0)">-60</text>
<line x1="14.30" y1="784.94" x2="18.50" y2="784.94" stroke="#262626" stroke-width="1"/>
<text x="12.50" y="787.53" text-anchor="end" font-size="10.6" transform="translate(12.50 0) scale(0.8 1) translate(-12.50 0)">-70</text>
<line x1="14.30" y1="813.00" x2="18.50" y2="813.00" stroke="#262626" stroke-width="1"/>
<text x="12.50" y="815.59" text-anchor="end" font-size="10.6" transform="translate(12.50 0) scale(0.8 1) translate(-12.50 0)">-80</text>
<line x1="18.50" y1="813.00" x2="18.50" y2="816.00" stroke="#262626" stroke-width="1"/>
<line x1="26.41" y1="813.00" x2="26.41" y2="817.80" stroke="#262626" stroke-width="1"/>
<text x="26.41" y="829.60" text-anchor="middle" font-size="10.7" transform="translate(26.41 0) scale(0.775 1) translate(-26.41 0)">1985</text>
<line x1="34.33" y1="813.00" x2="34.33" y2="816.00" stroke="#262626" stroke-width="1"/>
<line x1="42.24" y1="813.00" x2="42.24" y2="816.00" stroke="#262626" stroke-width="1"/>
<line x1="50.15" y1="813.00" x2="50.15" y2="816.00" stroke="#262626" stroke-width="1"/>
<line x1="58.07" y1="813.00" x2="58.07" y2="816.00" stroke="#262626" stroke-width="1"/>
<line x1="65.98" y1="813.00" x2="65.98" y2="817.80" stroke="#262626" stroke-width="1"/>
<text x="65.98" y="829.60" text-anchor="middle" font-size="10.7" transform="translate(65.98 0) scale(0.775 1) translate(-65.98 0)">1990</text>
<line x1="73.89" y1="813.00" x2="73.89" y2="816.00" stroke="#262626" stroke-width="1"/>
<line x1="81.81" y1="813.00" x2="81.81" y2="816.00" stroke="#262626" stroke-width="1"/>
<line x1="89.72" y1="813.00" x2="89.72" y2="816.00" stroke="#262626" stroke-width="1"/>
<line x1="97.64" y1="813.00" x2="97.64" y2="816.00" stroke="#262626" stroke-width="1"/>
<line x1="105.55" y1="813.00" x2="105.55" y2="817.80" stroke="#262626" stroke-width="1"/>
<text x="105.55" y="829.60" text-anchor="middle" font-size="10.7" transform="translate(105.55 0) scale(0.775 1) translate(-105.55 0)">1995</text>
<line x1="113.46" y1="813.00" x2="113.46" y2="816.00" stroke="#262626" stroke-width="1"/>
<line x1="121.38" y1="813.00" x2="121.38" y2="816.00" stroke="#262626" stroke-width="1"/>
<line x1="129.29" y1="813.00" x2="129.29" y2="816.00" stroke="#262626" stroke-width="1"/>
<line x1="137.20" y1="813.00" x2="137.20" y2="816.00" stroke="#262626" stroke-width="1"/>
<line x1="145.12" y1="813.00" x2="145.12" y2="817.80" stroke="#262626" stroke-width="1"/>
<text x="145.12" y="829.60" text-anchor="middle" font-size="10.7" transform="translate(145.12 0) scale(0.775 1) translate(-145.12 0)">2000</text>
<line x1="153.03" y1="813.00" x2="153.03" y2="816.00" stroke="#262626" stroke-width="1"/>
<line x1="160.94" y1="813.00" x2="160.94" y2="816.00" stroke="#262626" stroke-width="1"/>
<line x1="168.86" y1="813.00" x2="168.86" y2="816.00" stroke="#262626" stroke-width="1"/>
<line x1="176.77" y1="813.00" x2="176.77" y2="816.00" stroke="#262626" stroke-width="1"/>
<line x1="184.68" y1="813.00" x2="184.68" y2="817.80" stroke="#262626" stroke-width="1"/>
<text x="184.68" y="829.60" text-anchor="middle" font-size="10.7" transform="translate(184.68 0) scale(0.775 1) translate(-184.68 0)">2005</text>
<line x1="192.60" y1="813.00" x2="192.60" y2="816.00" stroke="#262626" stroke-width="1"/>
<line x1="200.51" y1="813.00" x2="200.51" y2="816.00" stroke="#262626" stroke-width="1"/>
<line x1="208.42" y1="813.00" x2="208.42" y2="816.00" stroke="#262626" stroke-width="1"/>
<line x1="216.34" y1="813.00" x2="216.34" y2="816.00" stroke="#262626" stroke-width="1"/>
<line x1="224.25" y1="813.00" x2="224.25" y2="817.80" stroke="#262626" stroke-width="1"/>
<text x="224.25" y="829.60" text-anchor="middle" font-size="10.7" transform="translate(224.25 0) scale(0.775 1) translate(-224.25 0)">2010</text>
<line x1="232.16" y1="813.00" x2="232.16" y2="816.00" stroke="#262626" stroke-width="1"/>
<line x1="240.08" y1="813.00" x2="240.08" y2="816.00" stroke="#262626" stroke-width="1"/>
<line x1="247.99" y1="813.00" x2="247.99" y2="816.00" stroke="#262626" stroke-width="1"/>
<line x1="255.91" y1="813.00" x2="255.91" y2="816.00" stroke="#262626" stroke-width="1"/>
<line x1="263.82" y1="813.00" x2="263.82" y2="817.80" stroke="#262626" stroke-width="1"/>
<text x="263.82" y="829.60" text-anchor="middle" font-size="10.7" transform="translate(263.82 0) scale(0.775 1) translate(-263.82 0)">2015</text>
<line x1="271.73" y1="813.00" x2="271.73" y2="816.00" stroke="#262626" stroke-width="1"/>
<line x1="279.65" y1="813.00" x2="279.65" y2="816.00" stroke="#262626" stroke-width="1"/>
<line x1="287.56" y1="813.00" x2="287.56" y2="816.00" stroke="#262626" stroke-width="1"/>
<line x1="295.47" y1="813.00" x2="295.47" y2="816.00" stroke="#262626" stroke-width="1"/>
<line x1="303.39" y1="813.00" x2="303.39" y2="817.80" stroke="#262626" stroke-width="1"/>
<text x="303.39" y="829.60" text-anchor="middle" font-size="10.7" transform="translate(303.39 0) scale(0.775 1) translate(-303.39 0)">2020</text>
<line x1="311.30" y1="813.00" x2="311.30" y2="816.00" stroke="#262626" stroke-width="1"/>
<text class="tt" x="14.60" y="566.60" font-size="17.4" font-style="italic" textLength="10.79" lengthAdjust="spacingAndGlyphs">N</text>
<text class="tt" x="26.50" y="566.60" font-size="17.4" font-style="italic" textLength="9.88" lengthAdjust="spacingAndGlyphs">R</text>
<text class="tt" x="36.61" y="566.60" font-size="17.4" font-style="italic" textLength="9.88" lengthAdjust="spacingAndGlyphs">R</text>
<text class="tt" x="64.67" y="566.60" font-size="17.4" font-style="italic" textLength="68.00" lengthAdjust="spacingAndGlyphs">Negative</text>
<text class="tt" x="137.57" y="566.60" font-size="17.4" font-style="italic" textLength="80.80" lengthAdjust="spacingAndGlyphs">component</text>
<text class="tt" x="223.54" y="566.60" font-size="17.4" font-style="italic" textLength="15.25" lengthAdjust="spacingAndGlyphs">of</text>
<text class="tt" x="245.66" y="566.60" font-size="17.4" font-style="italic" textLength="10.79" lengthAdjust="spacingAndGlyphs">N</text>
<text class="tt" x="257.88" y="566.60" font-size="17.4" font-style="italic" textLength="9.88" lengthAdjust="spacingAndGlyphs">R</text>
<text class="tt" x="268.28" y="566.60" font-size="17.4" font-style="italic" textLength="9.88" lengthAdjust="spacingAndGlyphs">R</text>
<path d="M63.25,555.30 Q54.65,562.45 63.25,569.60 L63.85,569.60 Q57.15,562.45 63.85,555.30 Z" fill="#111"/>
<path d="M280.35,555.40 Q288.95,562.65 280.35,569.90 L279.75,569.90 Q286.45,562.65 279.75,555.40 Z" fill="#111"/>
<line x1="48.90" y1="557.20" x2="56.10" y2="557.20" stroke="#222" stroke-width="0.9"/>
<polyline points="371.18,579.20 379.86,579.20 388.54,579.20 397.21,579.20 405.89,586.20 414.57,613.30 423.25,613.30 431.93,644.20 440.61,644.20 449.28,650.60 457.96,651.20 466.64,652.40 475.32,656.80 484.00,656.80 492.68,656.80 501.35,656.80 510.03,656.80 518.71,656.80 527.39,670.10 536.07,702.40 544.75,702.40 553.42,702.40 562.10,702.40 570.78,745.90 579.46,767.70 588.14,767.70 596.82,767.70 605.49,767.70 614.17,779.60 622.85,779.60 631.53,779.60 640.21,792.20 648.89,807.50 657.56,807.50 666.24,807.50 674.92,809.60 683.60,809.60" fill="none" stroke="#1212dc" stroke-width="1.0" stroke-linejoin="round"/>
<line x1="362.50" y1="578.00" x2="362.50" y2="813.00" stroke="#444" stroke-width="1"/>
<line x1="362.00" y1="578.50" x2="684.10" y2="578.50" stroke="#333" stroke-width="1"/>
<line x1="683.60" y1="578.00" x2="683.60" y2="813.00" stroke="#333" stroke-width="1"/>
<line x1="362.00" y1="812.50" x2="684.10" y2="812.50" stroke="#333" stroke-width="1"/>
<line x1="358.30" y1="578.50" x2="362.50" y2="578.50" stroke="#262626" stroke-width="1"/>
<text x="355.10" y="581.87" text-anchor="end" font-size="11.1" transform="translate(355.10 0) scale(0.78 1) translate(-355.10 0)">0.0</text>
<line x1="358.30" y1="625.30" x2="362.50" y2="625.30" stroke="#262626" stroke-width="1"/>
<text x="355.10" y="628.67" text-anchor="end" font-size="11.1" transform="translate(355.10 0) scale(0.78 1) translate(-355.10 0)">-0.5</text>
<line x1="358.30" y1="672.10" x2="362.50" y2="672.10" stroke="#262626" stroke-width="1"/>
<text x="355.10" y="675.47" text-anchor="end" font-size="11.1" transform="translate(355.10 0) scale(0.78 1) translate(-355.10 0)">-1.0</text>
<line x1="358.30" y1="718.90" x2="362.50" y2="718.90" stroke="#262626" stroke-width="1"/>
<text x="355.10" y="722.27" text-anchor="end" font-size="11.1" transform="translate(355.10 0) scale(0.78 1) translate(-355.10 0)">-1.5</text>
<line x1="358.30" y1="765.70" x2="362.50" y2="765.70" stroke="#262626" stroke-width="1"/>
<text x="355.10" y="769.07" text-anchor="end" font-size="11.1" transform="translate(355.10 0) scale(0.78 1) translate(-355.10 0)">-2.0</text>
<line x1="358.30" y1="812.50" x2="362.50" y2="812.50" stroke="#262626" stroke-width="1"/>
<text x="355.10" y="815.87" text-anchor="end" font-size="11.1" transform="translate(355.10 0) scale(0.78 1) translate(-355.10 0)">-2.5</text>
<line x1="362.50" y1="812.50" x2="362.50" y2="815.50" stroke="#262626" stroke-width="1"/>
<line x1="371.18" y1="812.50" x2="371.18" y2="817.30" stroke="#262626" stroke-width="1"/>
<text x="371.18" y="829.60" text-anchor="middle" font-size="11.1" transform="translate(371.18 0) scale(0.83 1) translate(-371.18 0)">1985</text>
<line x1="379.86" y1="812.50" x2="379.86" y2="815.50" stroke="#262626" stroke-width="1"/>
<line x1="388.54" y1="812.50" x2="388.54" y2="815.50" stroke="#262626" stroke-width="1"/>
<line x1="397.21" y1="812.50" x2="397.21" y2="815.50" stroke="#262626" stroke-width="1"/>
<line x1="405.89" y1="812.50" x2="405.89" y2="815.50" stroke="#262626" stroke-width="1"/>
<line x1="414.57" y1="812.50" x2="414.57" y2="817.30" stroke="#262626" stroke-width="1"/>
<text x="414.57" y="829.60" text-anchor="middle" font-size="11.1" transform="translate(414.57 0) scale(0.83 1) translate(-414.57 0)">1990</text>
<line x1="423.25" y1="812.50" x2="423.25" y2="815.50" stroke="#262626" stroke-width="1"/>
<line x1="431.93" y1="812.50" x2="431.93" y2="815.50" stroke="#262626" stroke-width="1"/>
<line x1="440.61" y1="812.50" x2="440.61" y2="815.50" stroke="#262626" stroke-width="1"/>
<line x1="449.28" y1="812.50" x2="449.28" y2="815.50" stroke="#262626" stroke-width="1"/>
<line x1="457.96" y1="812.50" x2="457.96" y2="817.30" stroke="#262626" stroke-width="1"/>
<text x="457.96" y="829.60" text-anchor="middle" font-size="11.1" transform="translate(457.96 0) scale(0.83 1) translate(-457.96 0)">1995</text>
<line x1="466.64" y1="812.50" x2="466.64" y2="815.50" stroke="#262626" stroke-width="1"/>
<line x1="475.32" y1="812.50" x2="475.32" y2="815.50" stroke="#262626" stroke-width="1"/>
<line x1="484.00" y1="812.50" x2="484.00" y2="815.50" stroke="#262626" stroke-width="1"/>
<line x1="492.68" y1="812.50" x2="492.68" y2="815.50" stroke="#262626" stroke-width="1"/>
<line x1="501.35" y1="812.50" x2="501.35" y2="817.30" stroke="#262626" stroke-width="1"/>
<text x="501.35" y="829.60" text-anchor="middle" font-size="11.1" transform="translate(501.35 0) scale(0.83 1) translate(-501.35 0)">2000</text>
<line x1="510.03" y1="812.50" x2="510.03" y2="815.50" stroke="#262626" stroke-width="1"/>
<line x1="518.71" y1="812.50" x2="518.71" y2="815.50" stroke="#262626" stroke-width="1"/>
<line x1="527.39" y1="812.50" x2="527.39" y2="815.50" stroke="#262626" stroke-width="1"/>
<line x1="536.07" y1="812.50" x2="536.07" y2="815.50" stroke="#262626" stroke-width="1"/>
<line x1="544.75" y1="812.50" x2="544.75" y2="817.30" stroke="#262626" stroke-width="1"/>
<text x="544.75" y="829.60" text-anchor="middle" font-size="11.1" transform="translate(544.75 0) scale(0.83 1) translate(-544.75 0)">2005</text>
<line x1="553.42" y1="812.50" x2="553.42" y2="815.50" stroke="#262626" stroke-width="1"/>
<line x1="562.10" y1="812.50" x2="562.10" y2="815.50" stroke="#262626" stroke-width="1"/>
<line x1="570.78" y1="812.50" x2="570.78" y2="815.50" stroke="#262626" stroke-width="1"/>
<line x1="579.46" y1="812.50" x2="579.46" y2="815.50" stroke="#262626" stroke-width="1"/>
<line x1="588.14" y1="812.50" x2="588.14" y2="817.30" stroke="#262626" stroke-width="1"/>
<text x="588.14" y="829.60" text-anchor="middle" font-size="11.1" transform="translate(588.14 0) scale(0.83 1) translate(-588.14 0)">2010</text>
<line x1="596.82" y1="812.50" x2="596.82" y2="815.50" stroke="#262626" stroke-width="1"/>
<line x1="605.49" y1="812.50" x2="605.49" y2="815.50" stroke="#262626" stroke-width="1"/>
<line x1="614.17" y1="812.50" x2="614.17" y2="815.50" stroke="#262626" stroke-width="1"/>
<line x1="622.85" y1="812.50" x2="622.85" y2="815.50" stroke="#262626" stroke-width="1"/>
<line x1="631.53" y1="812.50" x2="631.53" y2="817.30" stroke="#262626" stroke-width="1"/>
<text x="631.53" y="829.60" text-anchor="middle" font-size="11.1" transform="translate(631.53 0) scale(0.83 1) translate(-631.53 0)">2015</text>
<line x1="640.21" y1="812.50" x2="640.21" y2="815.50" stroke="#262626" stroke-width="1"/>
<line x1="648.89" y1="812.50" x2="648.89" y2="815.50" stroke="#262626" stroke-width="1"/>
<line x1="657.56" y1="812.50" x2="657.56" y2="815.50" stroke="#262626" stroke-width="1"/>
<line x1="666.24" y1="812.50" x2="666.24" y2="815.50" stroke="#262626" stroke-width="1"/>
<line x1="674.92" y1="812.50" x2="674.92" y2="817.30" stroke="#262626" stroke-width="1"/>
<text x="674.92" y="829.60" text-anchor="middle" font-size="11.1" transform="translate(674.92 0) scale(0.83 1) translate(-674.92 0)">2020</text>
<line x1="683.60" y1="812.50" x2="683.60" y2="815.50" stroke="#262626" stroke-width="1"/>
<text class="tt" x="347.83" y="566.60" font-size="16.4" font-style="italic" textLength="9.39" lengthAdjust="spacingAndGlyphs">E</text>
<text class="tt" x="356.73" y="566.60" font-size="16.4" font-style="italic" textLength="10.18" lengthAdjust="spacingAndGlyphs">C</text>
<text class="tt" x="367.19" y="566.60" font-size="16.4" font-style="italic" textLength="5.08" lengthAdjust="spacingAndGlyphs">I</text>
<text class="tt" x="391.49" y="566.60" font-size="16.4" font-style="italic" textLength="66.64" lengthAdjust="spacingAndGlyphs">Negative</text>
<text class="tt" x="463.24" y="566.60" font-size="16.4" font-style="italic" textLength="80.53" lengthAdjust="spacingAndGlyphs">component</text>
<text class="tt" x="549.31" y="566.60" font-size="16.4" font-style="italic" textLength="14.94" lengthAdjust="spacingAndGlyphs">of</text>
<text class="tt" x="571.93" y="566.60" font-size="16.4" font-style="italic" textLength="9.32" lengthAdjust="spacingAndGlyphs">E</text>
<text class="tt" x="580.71" y="566.60" font-size="16.4" font-style="italic" textLength="10.18" lengthAdjust="spacingAndGlyphs">C</text>
<text class="tt" x="591.11" y="566.60" font-size="16.4" font-style="italic" textLength="5.08" lengthAdjust="spacingAndGlyphs">I</text>
<path d="M389.15,555.40 Q380.55,562.65 389.15,569.90 L389.75,569.90 Q383.05,562.65 389.75,555.40 Z" fill="#111"/>
<path d="M599.55,555.20 Q606.55,562.45 599.55,569.70 L598.95,569.70 Q604.05,562.45 598.95,555.20 Z" fill="#111"/>
<line x1="375.00" y1="557.20" x2="382.00" y2="557.20" stroke="#222" stroke-width="0.9"/>
</svg>
</body></html>
